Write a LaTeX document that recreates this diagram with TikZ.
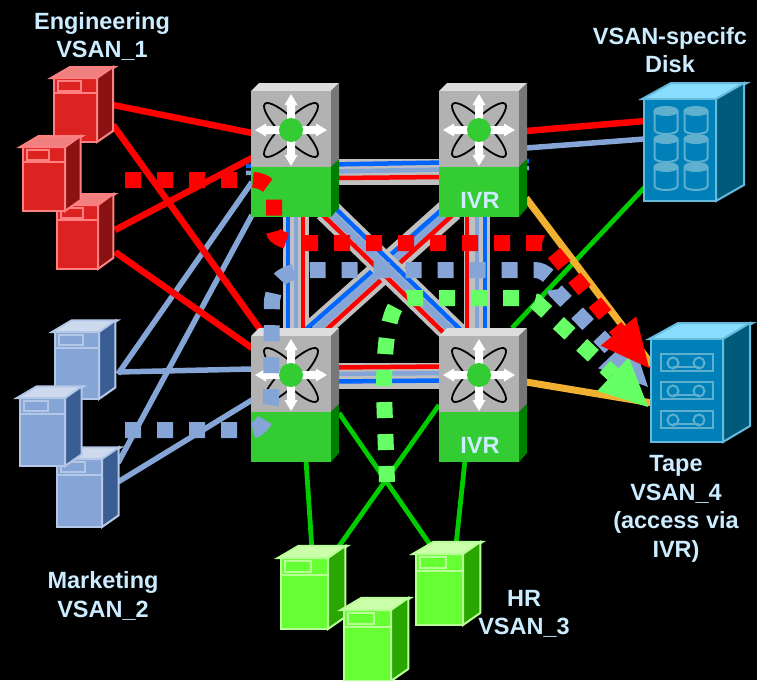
\documentclass[tikz,border=0pt]{standalone}
\usepackage{fontspec}
\setmainfont{Liberation Sans}
\usetikzlibrary{arrows.meta}
\definecolor{lbl}{HTML}{CCECFF}
\definecolor{rbody}{HTML}{DD2222}\definecolor{rside}{HTML}{8B1212}\definecolor{rtop}{HTML}{F08080}\definecolor{redge}{HTML}{FF8080}
\definecolor{bbody}{HTML}{84A5D5}\definecolor{bside}{HTML}{3A5E94}\definecolor{btop}{HTML}{CDDAEE}\definecolor{bedge}{HTML}{B4C7E7}
\definecolor{gbody}{HTML}{66FF33}\definecolor{gside}{HTML}{29A600}\definecolor{gtop}{HTML}{CCFFAA}\definecolor{gedge}{HTML}{B9FF99}
\definecolor{swtop}{HTML}{DDDDDD}\definecolor{swfront}{HTML}{B2B2B2}\definecolor{swside}{HTML}{777777}
\definecolor{swgreen}{HTML}{33CC33}\definecolor{swdark}{HTML}{008000}
\definecolor{stfront}{HTML}{0080B8}\definecolor{stside}{HTML}{005A7A}\definecolor{sttop}{HTML}{88DDFF}\definecolor{stedge}{HTML}{66BBDD}\definecolor{stcyl}{HTML}{5FB0CF}
\definecolor{peri}{HTML}{84A5D5}\definecolor{band}{HTML}{C0C0C0}\definecolor{isl}{HTML}{0066FF}
\definecolor{orng}{HTML}{F0B030}\definecolor{lgreen}{HTML}{00CC00}\definecolor{dgreen}{HTML}{66FF66}
\tikzset{
  lbltext/.style={text=lbl,font=\fontsize{23.5}{28.5}\selectfont\bfseries,align=center,inner sep=0pt},
  link/.style={line width=6.5pt},
  linkb/.style={line width=5.5pt},
  linkg/.style={line width=4.8pt},
  linko/.style={line width=7pt},
  bandline/.style={band,line width=26pt},
  thinisl/.style={line width=4.5pt},
  wideisl/.style={line width=7.5pt},
  dotted16/.style={line width=16pt,dash pattern=on 16pt off 16pt},
  bigtip/.style={-{Triangle[length=48pt,width=46pt,line width=0pt]}},
  plain/.style={inner sep=0pt,outer sep=0pt,anchor=north west}
}
% name x y w h prefix
\newcommand\serverdev[6]{%
 \begin{scope}[shift={(#2,#3)}]
  \node[plain,fill=#6body,draw=#6edge,line width=2pt,minimum width=#4pt,minimum height=#5pt] (#1) at (0,0) {};
  \begin{scope}[xscale=#4/43,yscale=#5/64,line width=2pt]
   \filldraw[fill=#6top,draw=#6edge] (-3,0) -- (16,-11) -- (61,-11) -- (43,0) -- cycle;
   \filldraw[fill=#6side,draw=#6edge] (43,0) -- (59,-11) -- (59,53) -- (43,64) -- cycle;
   \draw[#6edge] (0,15) -- (43,15);
   \draw[#6edge] (4,3) rectangle (27,12.5);
  \end{scope}
 \end{scope}}
% name x y
\newcommand\switchdev[3]{%
 \begin{scope}[shift={(#2,#3)}]
  \fill[swtop] (0,0) -- (8,-8) -- (88,-8) -- (80,0) -- cycle;
  \fill[swside] (80,0) -- (88,-8) -- (88,68) -- (80,76) -- cycle;
  \fill[swdark] (80,76) -- (88,68) -- (88,117) -- (80,126) -- cycle;
  \node[plain,fill=swfront,minimum width=80pt,minimum height=76pt] (#1) at (0,0) {};
  \node[plain,fill=swgreen,minimum width=80pt,minimum height=50pt] (#1g) at (0,76) {};
  \begin{scope}[shift={(40,39)}]
   \draw[black,line width=1.8pt,rotate=45] (0,0) ellipse [x radius=37,y radius=9.5];
   \draw[black,line width=1.8pt,rotate=-45] (0,0) ellipse [x radius=37,y radius=9.5];
   \foreach \a in {0,90,180,270}{
    \fill[white,rotate=\a] (0,-4) -- (25,-4) -- (25,-6.5) -- (36,0) -- (25,6.5) -- (25,4) -- (0,4) -- cycle;}
   \fill[swgreen] (0,0) circle [radius=12];
  \end{scope}
 \end{scope}}
% x y cylinder
\newcommand\cyl[2]{%
 \begin{scope}[shift={(#1,#2)},stcyl,line width=2pt]
  \draw (-11.5,0) -- (-11.5,19) arc [start angle=180,end angle=360,x radius=11.5,y radius=-4] -- (11.5,0);
  \filldraw[fill=stcyl] (0,0) ellipse [x radius=11.5,y radius=4];
 \end{scope}}
\newcommand\tapecart[2]{%
 \begin{scope}[shift={(#1,#2)},stcyl,line width=2pt]
  \draw (0,0) rectangle (52,17);
  \draw (12,9) circle [radius=5.5];
  \draw (38,9) circle [radius=5.5];
  \draw (12,13) -- (38,13);
 \end{scope}}
\begin{document}
\begin{tikzpicture}[x=1pt,y=-1pt]
\useasboundingbox[fill=black] (0,0) rectangle (757,680);
% --- connector ends
\coordinate (r1a) at (113,105); \coordinate (r1b) at (113,125);
\coordinate (r3a) at (115,230); \coordinate (r3b) at (115,252);
\coordinate (b1a) at (118,374); \coordinate (b1b) at (118,372);
\coordinate (b3a) at (118,463); \coordinate (b3b) at (118,482);
\coordinate (s1a) at (252,133); \coordinate (s1b) at (252,158); \coordinate (s1c) at (252,182); \coordinate (s1d) at (252,215);
\coordinate (s3a) at (262,332); \coordinate (s3b) at (252,348); \coordinate (s3c) at (252,369); \coordinate (s3d) at (252,400);
\coordinate (s2a) at (526,131); \coordinate (s2b) at (526,148); \coordinate (s2c) at (526,198);
\coordinate (da) at (645,121); \coordinate (db) at (645,139); \coordinate (dc) at (645,187);
\coordinate (s4a) at (512,328); \coordinate (s4b) at (526,382); \coordinate (s4c) at (439,405); \coordinate (s4d) at (465,460);
\coordinate (ta) at (652,365); \coordinate (tb) at (652,403);
\coordinate (s3e) at (339,413); \coordinate (s3f) at (306,460);
\coordinate (g1a) at (337,549); \coordinate (g1b) at (312,550); \coordinate (g3a) at (431,546); \coordinate (g3b) at (456,545);
% --- inter-switch bundles
\draw[bandline] (335,172) -- (443,172);
\draw[bandline] (335,376) -- (443,376);
\draw[bandline] (296,215) -- (296,330);
\draw[bandline] (477,215) -- (477,330);
\draw[bandline] (451.5,208.5) -- (315,330.5);
\draw[peri,wideisl] (451.5,208.5) -- (315,330.5);
\draw[isl,thinisl] (446,206) -- (304,331);
\draw[red,thinisl] (457,211) -- (326,330);
\draw[bandline] (326,209) -- (458,337);
\draw[peri,wideisl] (326,209) -- (458,337);
\draw[isl,thinisl] (336,209) -- (469,338);
\draw[red,thinisl] (316,208.4) -- (447,336);
% horizontal and vertical bundle lines
\draw[isl,thinisl] (246,166) -- (529,161);
\draw[peri,thinisl] (246,173) -- (529,168);
\draw[red,thinisl] (335,178) -- (443,177);
\draw[red,thinisl] (335,367.5) -- (443,366.5);
\draw[peri,thinisl] (335,374) -- (443,373);
\draw[isl,thinisl] (335,381.5) -- (443,380.5);
\draw[isl,thinisl] (288,215) -- (288,330);
\draw[peri,thinisl] (296,215) -- (296,330);
\draw[red,thinisl] (303,215) -- (303,330);
\draw[red,thinisl] (467,215) -- (467,330);
\draw[peri,thinisl] (477,215) -- (477,330);
\draw[isl,thinisl] (485,215) -- (485,330);
% --- solid links
\draw[linkb,peri] (b1a) -- (s1c);
\draw[linkb,peri] (b1b) -- (s3c);
\draw[linkb,peri] (b3a) -- (s1d);
\draw[linkb,peri] (b3b) -- (s3d);
\draw[linkb,peri] (s2b) -- (db);
\draw[link,red] (r1a) -- (s1a);
\draw[link,red] (r1b) -- (s3a);
\draw[link,red] (r3a) -- (s1b);
\draw[link,red] (r3b) -- (s3b);
\draw[link,red] (s2a) -- (da);
\draw[linkg,lgreen] (s4a) -- (dc);
\draw[linkg,lgreen] (s3e) -- (g3a);
\draw[linkg,lgreen] (s4c) -- (g1a);
\draw[linkg,lgreen] (s3f) -- (g1b);
\draw[linkg,lgreen] (s4d) -- (g3b);
\draw[linko,orng] (s2c) -- (ta);
\draw[linko,orng] (s4b) -- (tb);
% --- switches
\switchdev{swa}{251}{91}
\switchdev{swb}{439}{91}
\switchdev{swc}{251}{336}
\switchdev{swd}{439}{336}
\node[lbltext] (ivrb) at (480,200) {IVR};
\node[lbltext] (ivrd) at (480,445) {IVR};
% --- servers
\serverdev{srvr1}{54}{78}{43}{64}{r}
\serverdev{srvr3}{57}{205}{41}{64}{r}
\serverdev{srvr2}{23}{147}{42}{64}{r}
\serverdev{srvb1}{55}{332}{44}{67}{b}
\serverdev{srvb3}{57}{459}{45}{68}{b}
\serverdev{srvb2}{20}{398}{45}{68}{b}
\serverdev{srvg1}{281}{558}{47}{71}{g}
\serverdev{srvg3}{416}{554}{47}{71}{g}
\serverdev{srvg2}{344}{610}{47}{71}{g}
% --- disk
\begin{scope}[line width=2pt,stedge]
 \filldraw[fill=sttop] (642,99) -- (671,83) -- (747,83) -- (716,99) -- cycle;
 \filldraw[fill=stside] (716,99) -- (744,83) -- (744,185) -- (716,201) -- cycle;
\end{scope}
\node[plain,fill=stfront,draw=stedge,line width=2pt,minimum width=72pt,minimum height=102pt] (disk) at (644,99) {};
\foreach \cx in {666,696}{\foreach \cy in {111,139,167}{\cyl{\cx}{\cy}}}
% --- tape
\begin{scope}[line width=2pt,stedge]
 \filldraw[fill=sttop] (649,339) -- (678,323) -- (753,323) -- (723,339) -- cycle;
 \filldraw[fill=stside] (723,339) -- (750,323) -- (750,426) -- (723,442) -- cycle;
\end{scope}
\node[plain,fill=stfront,draw=stedge,line width=2pt,minimum width=72pt,minimum height=103pt] (tape) at (651,339) {};
\tapecart{661}{354}\tapecart{661}{382}\tapecart{661}{411}
% --- dashed VSAN paths
\coordinate (bs) at (125,430); \coordinate (bt) at (648,387);
\coordinate (gs) at (387,482); \coordinate (gt) at (648,407);
\coordinate (rs) at (125,180); \coordinate (rt) at (649,368);
\draw[peri,dotted16,bigtip] (bs) -- (253,430) .. controls (260,430) and (270,415) .. (271,402.5) -- (272,300) -- (274,291) .. controls (274,278) and (290,270) .. (311,270) -- (535,270) .. controls (545,270) and (556,281) .. (556,291) -- (bt);
\draw[dgreen,dotted16,bigtip] (gs) -- (384,393) .. controls (384,345) and (388,298) .. (408,298) -- (520,298) -- (535.5,301.5) -- (gt);
\draw[red,dotted16,bigtip] (rs) -- (253,180) .. controls (264.5,180) and (274,188.5) .. (274,199) -- (274,231) .. controls (274,238) and (288,243) .. (302,243) -- (542,243) .. controls (547,244) and (550,248) .. (552.9,251.8) -- (rt);
% --- labels
\node[lbltext] (l1) at (102,36.5) {Engineering\\VSAN\_1};
\node[lbltext] (l2) at (670,50) {VSAN-specifc\\Disk};
\node[lbltext] (l3) at (676,509) {Tape\\VSAN\_4\\(access via\\IVR)};
\node[lbltext] (l4) at (103,596) {Marketing\\VSAN\_2};
\node[lbltext] (l5) at (524,614) {HR\\VSAN\_3};
\end{tikzpicture}
\end{document}
